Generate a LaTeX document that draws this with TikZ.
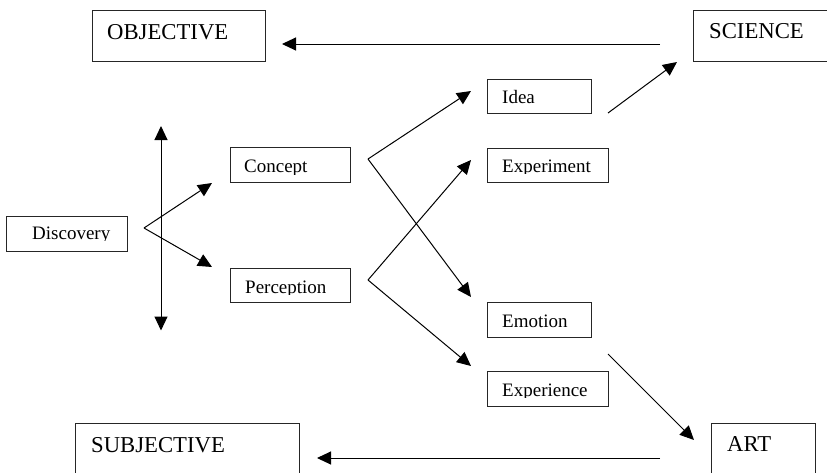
\documentclass[tikz,border=0pt]{standalone}
\usepackage{fontspec}
\setmainfont{Liberation Serif}
\usetikzlibrary{arrows.meta}
\newcommand\tbox[9]{%
  \node[boxstyle, minimum width={(#4-#2)*1pt}, minimum height={(#5-#3)*1pt}] (#1) at ({(#2+#4)/2},{(#3+#5)/2}) {};
  \begin{scope}
    \clip (#2,#3) rectangle (#4,#7+1.8);
    \node[anchor=base west, inner sep=0pt, font=\fontsize{#8}{#8}\selectfont] (#1-text) at (#6,#7) {#9};
  \end{scope}}
\begin{document}
\begin{tikzpicture}[x=1pt, y=-1pt,
  boxstyle/.style={draw=black!85, line width=1pt, inner sep=0pt, fill=none},
  arr/.style={line width=1pt, -{Triangle[length=14pt, width=13pt]}},
  darr/.style={line width=1pt, {Triangle[length=14pt, width=13pt]}-{Triangle[length=14pt, width=13pt]}},
  ln/.style={line width=1pt}]
\useasboundingbox (0,0) rectangle (827,472);
\clip (0,0) rectangle (827,472);
\fill[white] (0,0) rectangle (827,472);

\tbox{objective}{92}{10}{265}{61}{107}{39}{22.7}{OBJECTIVE}
\tbox{science}{693}{10}{840}{61}{709}{38}{22.7}{SCIENCE}
\tbox{idea}{487}{79}{591}{113}{502}{103}{19}{Idea}
\tbox{experiment}{487}{148}{608}{182}{502}{172}{19}{Experiment}
\tbox{concept}{230}{147}{350}{182}{244}{172.7}{19}{Concept}
\tbox{discovery}{6}{216}{127}{251}{32}{239}{19}{Discovery}
\tbox{perception}{230}{268}{350}{302}{245}{293}{19}{Perception}
\tbox{emotion}{487}{302}{591}{337}{502}{327}{19}{Emotion}
\tbox{experience}{487}{371}{608}{406}{502}{396}{19}{Experience}
\tbox{subjective}{75}{423}{299}{495}{91}{452}{22.7}{SUBJECTIVE}
\tbox{art}{711}{423}{815}{495}{727}{451}{22.7}{ART}

% connector coordinates
\coordinate (sciout) at (660,44);
\coordinate (objin) at (282,44);
\coordinate (artout) at (660,458);
\coordinate (subjin) at (317,458);
\coordinate (ideaout) at (608,113);
\coordinate (sciin) at (677,62);
\coordinate (emoout) at (608,354);
\coordinate (artin) at (694,440);
\coordinate (vtop) at (161,126);
\coordinate (vbot) at (161,330.5);
\coordinate (dv) at (144,228);
\coordinate (conin) at (212,183);
\coordinate (perin) at (212,267);
\coordinate (cv) at (368,159);
\coordinate (ideain) at (471,91);
\coordinate (emoin) at (471,297);
\coordinate (pv) at (368,280);
\coordinate (expin) at (471,160);
\coordinate (expcin) at (471,366);

\draw[arr] (sciout) -- (objin);
\draw[arr] (artout) -- (subjin);
\draw[arr] (ideaout) -- (sciin);
\draw[arr] (emoout) -- (artin);
\draw[darr] (vbot) -- (vtop);
\draw[arr] (dv) -- (conin);
\draw[arr] (dv) -- (perin);
\draw[arr] (cv) -- (ideain);
\draw[arr] (cv) -- (emoin);
\draw[arr] (pv) -- (expin);
\draw[arr] (pv) -- (expcin);
\end{tikzpicture}
\end{document}
